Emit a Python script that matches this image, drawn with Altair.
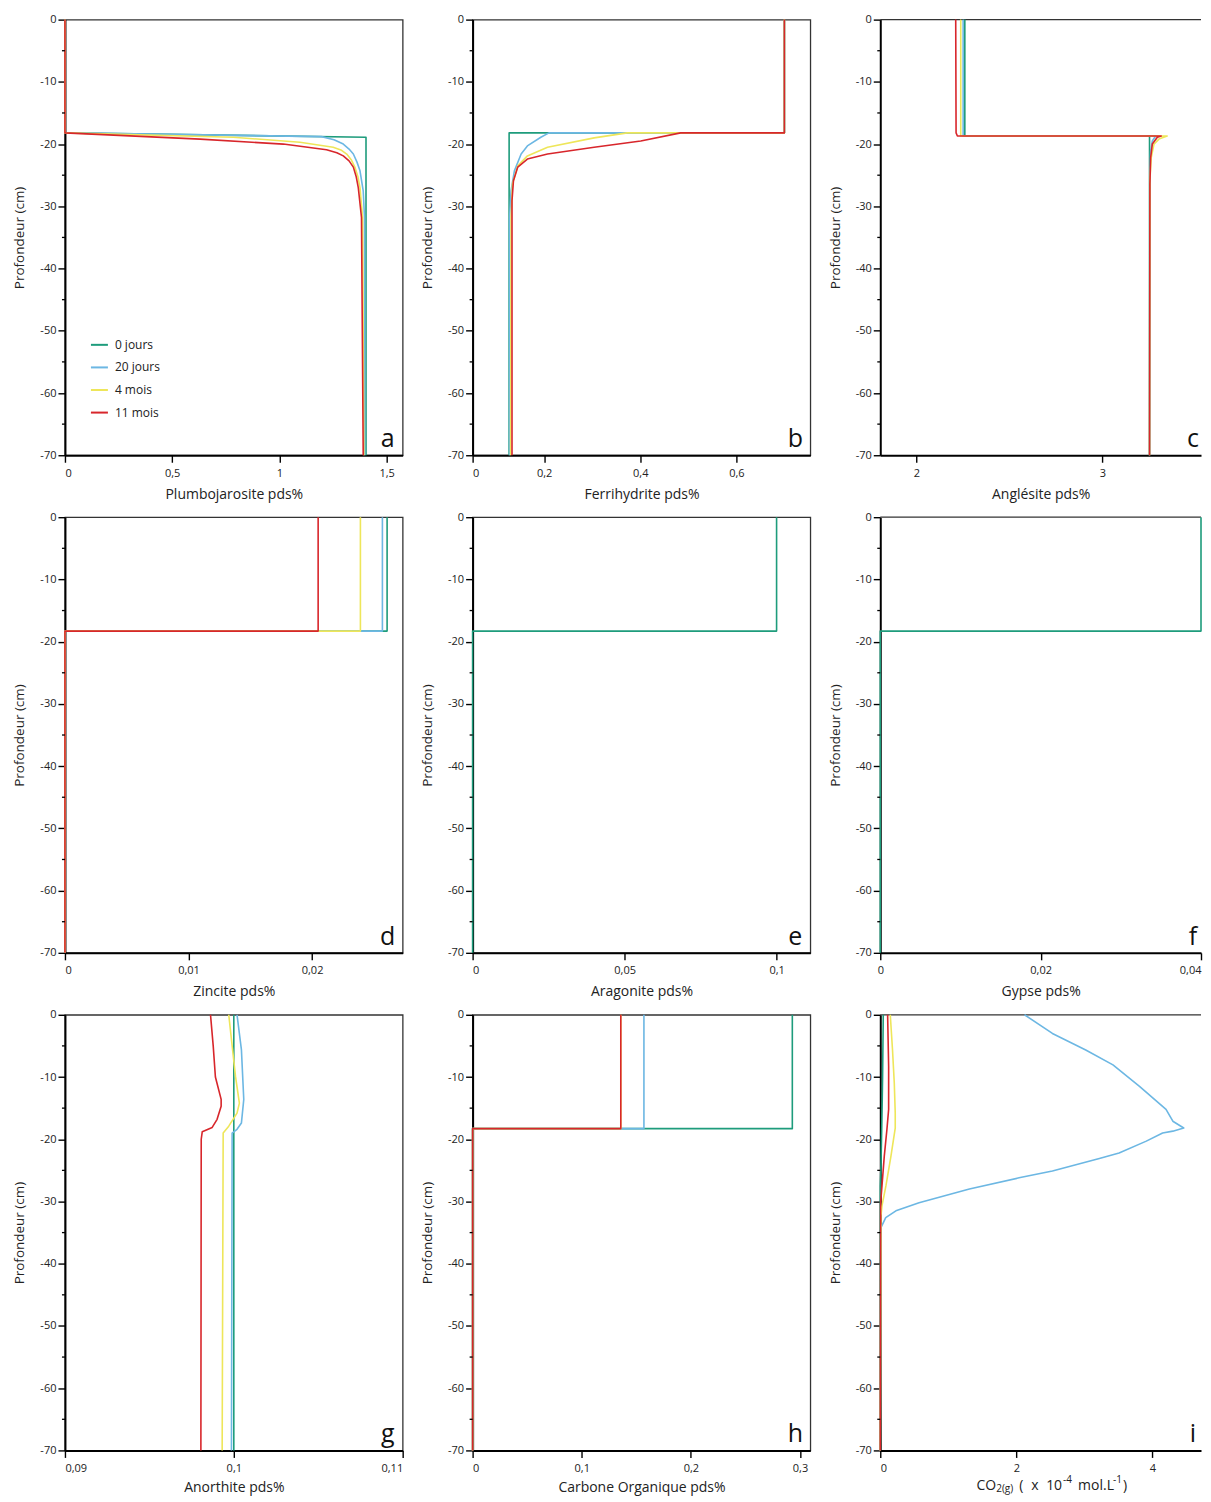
import altair as alt
import pandas as pd

SERIES = ["0 jours", "20 jours", "4 mois", "11 mois"]
COLORS = ["#1e9c7c", "#6cb7e3", "#eee65a", "#d8262b"]

Y_TICKS = [-70, -60, -50, -40, -30, -20, -10, 0]
Y_MINOR = [-65, -55, -45, -35, -25, -15, -5]

# (depths, values) per series
PLUMBOJAROSITE = {
    "0 jours": ([0, -18.2, -18.9, -70], [0, 0, 1.404, 1.404]),
    "20 jours": ([0, -18.2, -18.8, -19.3, -20.0, -20.8, -21.6, -22.9, -24.3, -27.5, -31.8, -70],
                 [0, 0, 1.197, 1.255, 1.298, 1.325, 1.345, 1.362, 1.376, 1.391, 1.397, 1.398]),
    "4 mois": ([0, -18.2, -18.9, -19.7, -20.5, -21.0, -21.6, -22.5, -23.7, -25.2, -27.0, -31.8, -70],
               [0, 0, 0.785, 1.096, 1.251, 1.290, 1.314, 1.335, 1.352, 1.366, 1.376, 1.388, 1.394]),
    "11 mois": ([0, -18.2, -19.2, -20.0, -20.9, -21.4, -21.9, -22.7, -23.7, -25.2, -27.0, -31.8, -70],
                [0, 0, 0.63, 1.018, 1.22, 1.268, 1.298, 1.325, 1.345, 1.358, 1.368, 1.383, 1.391]),
}
FERRIHYDRITE = {
    "0 jours": ([0, -18.2, -18.2, -70], [0.70, 0.70, 0.127, 0.127]),
    "20 jours": ([0, -18.2, -18.2, -18.9, -20.3, -21.6, -24.3, -27.5, -31.8, -70],
                 [0.70, 0.70, 0.21, 0.193, 0.165, 0.152, 0.138, 0.131, 0.128, 0.128]),
    "4 mois": ([0, -18.2, -18.2, -19.0, -20.5, -21.9, -23.5, -26.4, -31.8, -70],
               [0.70, 0.70, 0.373, 0.304, 0.207, 0.165, 0.145, 0.134, 0.131, 0.130]),
    "11 mois": ([0, -18.2, -18.2, -19.5, -20.5, -21.6, -22.4, -23.7, -25.9, -29.1, -34.5, -70],
                [0.70, 0.70, 0.484, 0.401, 0.304, 0.207, 0.165, 0.145, 0.136, 0.133, 0.133, 0.133]),
}
ANGLESITE = {
    "0 jours": ([0, -18.7, -18.7, -70], [2.26, 2.26, 3.254, 3.254]),
    "20 jours": ([0, -18.7, -18.7, -19.5, -21.1, -24.8, -70],
                 [2.251, 2.251, 3.287, 3.269, 3.26, 3.256, 3.254]),
    "4 mois": ([0, -18.7, -18.7, -19.2, -20.0, -22.2, -25.9, -70],
               [2.238, 2.238, 3.349, 3.305, 3.278, 3.263, 3.256, 3.254]),
    "11 mois": ([0, -18.2, -18.7, -18.7, -18.9, -20.0, -22.2, -26.4, -70],
                [2.211, 2.213, 2.22, 3.317, 3.296, 3.269, 3.26, 3.256, 3.254]),
}
ZINCITE = {
    "0 jours": ([0, -18.3, -18.3, -70], [0.02607, 0.02607, 0, 0]),
    "20 jours": ([0, -18.3, -18.3, -70], [0.02569, 0.02569, 0, 0]),
    "4 mois": ([0, -18.3, -18.3, -70], [0.02391, 0.02391, 0, 0]),
    "11 mois": ([0, -18.3, -18.3, -70], [0.02049, 0.02049, 0, 0]),
}
ARAGONITE = {
    "0 jours": ([0, -18.3, -18.3, -70], [0.1, 0.1, 0, 0]),
}
GYPSE = {
    "0 jours": ([0, -18.3, -18.3, -70], [0.04, 0.04, 0, 0]),
}
ANORTHITE = {
    "0 jours": ([0, -70], [0.1, 0.1]),
    "20 jours": ([0, -5.6, -13.6, -17.4, -18.4, -19.0, -70],
                 [0.10019, 0.10045, 0.10059, 0.10045, 0.10019, 0.0999, 0.09986]),
    "4 mois": ([0, -9.9, -14.2, -15.8, -17.9, -19.0, -70],
               [0.0997, 0.1001, 0.10033, 0.10019, 0.0997, 0.09937, 0.09931]),
    "11 mois": ([0, -5, -10, -13.6, -14.7, -16.8, -18.1, -18.8, -20, -70],
                [0.09862, 0.09878, 0.09891, 0.09925, 0.09925, 0.09901, 0.09872, 0.09813, 0.09807, 0.09805]),
}
CARBONE_ORG = {
    "0 jours": ([0, -18.3, -18.3, -70], [0.293, 0.293, 0, 0]),
    "20 jours": ([0, -18.3, -18.3, -70], [0.157, 0.157, 0, 0]),
    "4 mois": ([0, -18.3, -18.3, -70], [0.1358, 0.1358, 0, 0]),
    "11 mois": ([0, -18.3, -18.3, -70], [0.1358, 0.1358, 0, 0]),
}
CO2 = {
    "0 jours": ([0, -10.0, -13.6, -19.0, -24.3, -27.5, -70],
                [0.044, 0.034, 0.029, 0.02, 0.01, 0, 0]),
    "20 jours": ([0, -3.0, -5.65, -8.05, -11.5, -15.2, -17.1, -18.2, -18.7, -19.0, -20.3,
                  -22.2, -23.1, -25.1, -26.2, -28.0, -30.2, -31.5, -32.6, -34.2, -70],
                 [2.12, 2.53, 3.02, 3.42, 3.81, 4.2, 4.30, 4.46, 4.30, 4.15, 3.91,
                  3.51, 3.22, 2.53, 2.04, 1.31, 0.57, 0.23, 0.08, 0.01, 0]),
    "4 mois": ([0, -5.65, -11, -15.8, -18.2, -22.7, -27.5, -30.7, -32.3, -70],
               [0.147, 0.18, 0.206, 0.22, 0.22, 0.157, 0.083, 0.025, 0.01, 0]),
    "11 mois": ([0, -8.3, -15.2, -18.4, -22.7, -27.5, -30.2, -70],
                [0.108, 0.123, 0.123, 0.098, 0.059, 0.025, 0.005, 0]),
}

W, W3, H = 338, 321, 436
FONT = "Open Sans"
DEFAULT_LABEL = "replace(datum.label, '.', ',')"
Y_LABEL = "datum.value < 0 ? '-' + format(-datum.value, 'd') : format(datum.value, 'd')"


def series_df(name, depths, vals):
    return pd.DataFrame({"serie": [name] * len(depths), "i": list(range(len(depths))),
                         "depth": depths, "val": vals})


def text_piece(s, x, y, size, align="left"):
    return alt.Chart(pd.DataFrame({"t": [s]})).mark_text(
        align=align, baseline="alphabetic", fontSize=size, color="#222", font=FONT
    ).encode(text="t:N", x=alt.value(x), y=alt.value(y))


def panel(data, xdomain, xticks, xtitle, letter, width=W, label_expr=DEFAULT_LABEL,
          legend=False, extra=(), title_pad=9, label_align=None, open_right=False):
    xscale = alt.Scale(domain=xdomain, nice=False, zero=False)
    yscale = alt.Scale(domain=[-70, 0], nice=False, zero=False)
    xaxis_kw = dict(values=xticks, format="~g", labelExpr=label_expr, title=xtitle, titlePadding=title_pad)
    if label_align is not None:
        xaxis_kw["labelAlign"] = label_align
    xaxis = alt.Axis(**xaxis_kw)
    yaxis = alt.Axis(values=Y_TICKS, title="Profondeur (cm)", labelExpr=Y_LABEL)
    if legend:
        leg = alt.Legend(title=None, orient="none", legendX=25, legendY=316,
                         symbolType="stroke", symbolSize=289, symbolStrokeWidth=2,
                         labelFontSize=12, labelOffset=6, rowPadding=6.6, padding=0,
                         labelColor="#222", direction="vertical")
    else:
        leg = None
    layers = []
    if open_right:
        # top frame only (the right frame lies outside the picture)
        layers.append(
            alt.Chart(pd.DataFrame({"t": [0]})).mark_rule(color="#333", strokeWidth=1.3).encode(
                x=alt.value(0), x2=alt.value(width), y=alt.value(0)
            )
        )
    for s in SERIES:
        if s not in data:
            continue
        depths, vals = data[s]
        layers.append(
            alt.Chart(series_df(s, depths, vals)).mark_line(strokeWidth=1.6, strokeJoin="round").encode(
                x=alt.X("val:Q", scale=xscale, axis=xaxis),
                y=alt.Y("depth:Q", scale=yscale, axis=yaxis),
                color=alt.Color("serie:N", scale=alt.Scale(domain=SERIES, range=COLORS), legend=leg),
                order=alt.Order("i:Q"),
            )
        )
    # minor depth ticks (every 5 cm), drawn just outside the left axis
    layers.append(
        alt.Chart(pd.DataFrame({"depth": Y_MINOR})).mark_rule(color="#000", strokeWidth=1.3).encode(
            y=alt.Y("depth:Q", scale=yscale, axis=yaxis), x=alt.value(-3), x2=alt.value(0)
        )
    )
    layers.append(
        alt.Chart(pd.DataFrame({"t": [letter]})).mark_text(
            fontSize=25, align="center", baseline="alphabetic", color="#111", font=FONT
        ).encode(text="t:N", x=alt.value(width - (8 if open_right else 15)), y=alt.value(H - 8))
    )
    layers.extend(extra)
    ch = alt.layer(*layers).properties(width=width, height=H)
    if open_right:
        ch = ch.properties(view=alt.ViewBackground(stroke="transparent"))
    return ch


co2_title = [
    text_piece("CO", 116, H + 40, 14, align="right"),
    text_piece("2(g)", 116, H + 42, 10),
    text_piece("(", 139, H + 40, 14),
    text_piece("x", 151, H + 40, 14),
    text_piece("10", 166, H + 40, 14),
    text_piece("-4", 183, H + 33, 10),
    text_piece("mol.L", 198, H + 40, 14),
    text_piece("-1", 233, H + 33, 10),
    text_piece(")", 243, H + 40, 14),
]

panels = [
    panel(PLUMBOJAROSITE, [0, 1.575], [0, 0.5, 1, 1.5], "Plumbojarosite pds%", "a", legend=True),
    panel(FERRIHYDRITE, [0.051, 0.754], [0.051, 0.2, 0.4, 0.6], "Ferrihydrite pds%", "b",
          label_expr="datum.value < 0.1 ? '0' : replace(datum.label, '.', ',')"),
    panel(ANGLESITE, [1.805, 3.531], [2, 3], "Anglésite pds%", "c", width=W3, open_right=True),
    panel(ZINCITE, [0, 0.02733], [0, 0.01, 0.02], "Zincite pds%", "d"),
    panel(ARAGONITE, [0, 0.1111], [0, 0.05, 0.1], "Aragonite pds%", "e"),
    panel(GYPSE, [0, 0.04], [0, 0.02, 0.04], "Gypse pds%", "f", width=W3, open_right=True,
          label_align={"condition": {"test": "datum.value > 0.03", "value": "right"}, "value": "center"}),
    panel(ANORTHITE, [0.09, 0.11], [0.09, 0.1, 0.11], "Anorthite pds%", "g", title_pad=7),
    panel(CARBONE_ORG, [0, 0.3095], [0, 0.1, 0.2, 0.3], "Carbone Organique pds%", "h", title_pad=7),
    panel(CO2, [0, 4.714], [0, 2, 4], None, "i", width=W3, open_right=True, extra=co2_title),
]

chart = alt.concat(
    *panels, columns=3, spacing={"row": 62, "column": 70}, bounds="flush", align="each"
).resolve_scale(
    color="independent"
).resolve_legend(
    color="independent"
).properties(
    padding={"left": 4, "top": 4, "right": 0, "bottom": 0}
).configure(
    font=FONT
).configure_view(
    stroke="#333", strokeWidth=1.3
).configure_axis(
    domainColor="#000", domainWidth=2, tickColor="#000", tickWidth=1.4, tickSize=7,
    labelFontSize=11, labelColor="#222", labelFont=FONT,
    titleFontWeight="normal", titleColor="#222", titleFont=FONT, grid=False
).configure_axisX(
    labelPadding=5, titleFontSize=14
).configure_axisY(
    labelPadding=2, titlePadding=13, titleFontSize=13.5
)

chart.save("out.html", embed_options={"renderer": "svg", "actions": False})
